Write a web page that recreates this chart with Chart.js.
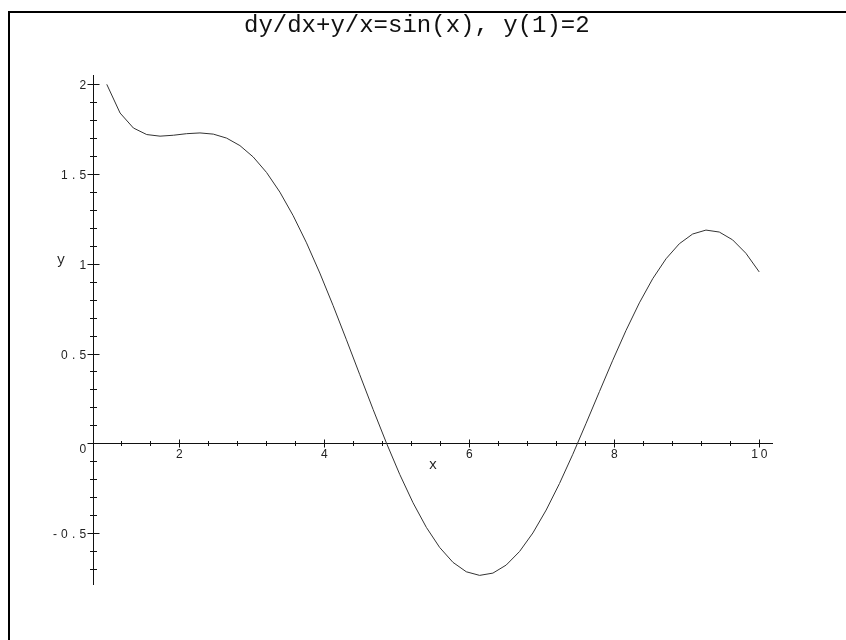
<!DOCTYPE html>
<html>
<head>
<meta charset="utf-8">
<script src="https://cdn.jsdelivr.net/npm/chart.js@4.4.1/dist/chart.umd.min.js"></script>
<style>
  html, body { margin: 0; padding: 0; background: #fff; }
  #wrap { width: 846px; height: 640px; }
</style>
</head>
<body>
<div id="wrap"><canvas id="plot" width="846" height="640"></canvas></div>
<script>
// Solution of dy/dx + y/x = sin(x), y(1) = 2, sampled on [1, 10]
const xValues = [1, 1.1837, 1.3673, 1.5510, 1.7347, 1.9184, 2.1020, 2.2857, 2.4694, 2.6531,
  2.8367, 3.0204, 3.2041, 3.3878, 3.5714, 3.7551, 3.9388, 4.1224, 4.3061, 4.4898,
  4.6735, 4.8571, 5.0408, 5.2245, 5.4082, 5.5918, 5.7755, 5.9592, 6.1429, 6.3265,
  6.5102, 6.6939, 6.8776, 7.0612, 7.2449, 7.4286, 7.6122, 7.7959, 7.9796, 8.1633,
  8.3469, 8.5306, 8.7143, 8.8980, 9.0816, 9.2653, 9.4490, 9.6327, 9.8163, 10];
const yValues = [2.0000, 1.8400, 1.7566, 1.7201, 1.7112, 1.7163, 1.7250, 1.7292, 1.7226, 1.7003,
  1.6586, 1.5951, 1.5088, 1.3994, 1.2680, 1.1167, 0.9484, 0.7668, 0.5764, 0.3819,
  0.1886, 0.0018, -0.1733, -0.3317, -0.4688, -0.5806, -0.6639, -0.7163, -0.7364, -0.7237,
  -0.6788, -0.6034, -0.5001, -0.3723, -0.2244, -0.0614, 0.1113, 0.2879, 0.4625, 0.6292,
  0.7823, 0.9167, 1.0278, 1.1118, 1.1658, 1.1878, 1.1769, 1.1334, 1.0585, 0.9546];

// Labelled axis ticks
const xTickValues = [2, 4, 6, 8, 10];
const xTickLabels = ['2', '4', '6', '8', '10'];
const yTickValues = [2, 1.5, 1, 0.5, 0, -0.5];
const yTickLabels = ['2', '1.5', '1', '0.5', '0', '-0.5'];

const titleText = 'dy/dx+y/x=sin(x), y(1)=2';
const xAxisTitle = 'x';
const yAxisTitle = 'y';

const points = xValues.map((x, i) => ({ x: x, y: yValues[i] }));

// Draws a string one character per fixed-width cell
function spacedText(ctx, text, cx, baseline, cell, align) {
  const n = text.length;
  let left;
  if (align === 'right') left = cx - n * cell;
  else left = cx - n * cell / 2;
  ctx.textAlign = 'center';
  for (let i = 0; i < n; i++) {
    ctx.fillText(text[i], left + cell * (i + 0.5), baseline);
  }
}

const axesPlugin = {
  id: 'mapleAxes',
  beforeDatasetsDraw(chart) {
    const ctx = chart.ctx;
    const xs = chart.scales.x;
    const ys = chart.scales.y;
    const area = chart.chartArea;
    const y0 = Math.round(ys.getPixelForValue(0)) + 0.5;
    const xAxisPos = Math.round(area.left) + 0.5;

    ctx.save();
    // outer frame
    ctx.strokeStyle = '#000';
    ctx.lineWidth = 2;
    ctx.beginPath();
    ctx.moveTo(9, 640);
    ctx.lineTo(9, 12);
    ctx.lineTo(846, 12);
    ctx.stroke();

    // axis lines
    ctx.strokeStyle = '#111';
    ctx.lineWidth = 1;
    ctx.beginPath();
    ctx.moveTo(area.left, y0);
    ctx.lineTo(area.right, y0);
    ctx.moveTo(xAxisPos, area.top);
    ctx.lineTo(xAxisPos, area.bottom);
    ctx.stroke();

    // x ticks: minor every 0.4, major every 2
    ctx.beginPath();
    for (let k = 3; k <= 25; k++) {
      const v = k * 0.4;
      if (v > xs.max) break;
      const px = Math.round(xs.getPixelForValue(v)) + 0.5;
      const major = (k % 5 === 0);
      const h = major ? 4 : 2.5;
      ctx.moveTo(px, y0 - h);
      ctx.lineTo(px, y0 + h);
    }
    // y ticks: minor every 0.1, major every 0.5
    for (let k = -7; k <= 20; k++) {
      const v = k / 10;
      const py = Math.round(ys.getPixelForValue(v)) + 0.5;
      const major = (k % 5 === 0);
      const w = major ? 6 : 3.5;
      ctx.moveTo(xAxisPos - w, py);
      ctx.lineTo(xAxisPos + w, py);
    }
    ctx.stroke();

    // tick labels
    ctx.fillStyle = '#222';
    ctx.font = '12px "Liberation Sans", Arial, sans-serif';
    ctx.textBaseline = 'alphabetic';
    xTickValues.forEach((v, i) => {
      const px = xs.getPixelForValue(v);
      spacedText(ctx, xTickLabels[i], px, y0 + 14, 9.5, 'center');
    });
    yTickValues.forEach((v, i) => {
      const py = ys.getPixelForValue(v);
      const off = (v === 0) ? 10 : 5;
      spacedText(ctx, yTickLabels[i], xAxisPos - 6, py + off, 9.3, 'right');
    });

    // axis titles
    ctx.font = '14px "Liberation Mono", "Courier New", monospace';
    ctx.textAlign = 'center';
    ctx.fillText(xAxisTitle, xs.getPixelForValue(5.5), y0 + 25);
    ctx.fillText(yAxisTitle, 61, ys.getPixelForValue(1) - 0);

    // plot title
    ctx.fillStyle = '#111';
    ctx.font = '24px "Liberation Mono", "Courier New", monospace';
    ctx.textAlign = 'left';
    ctx.fillText(titleText, 244, 32);
    ctx.restore();
  }
};

new Chart(document.getElementById('plot'), {
  type: 'scatter',
  data: {
    datasets: [{
      data: points,
      showLine: true,
      borderColor: '#333',
      borderWidth: 1,
      pointRadius: 0,
      tension: 0,
      fill: false
    }]
  },
  options: {
    responsive: false,
    animation: false,
    devicePixelRatio: 1,
    layout: { padding: { left: 93, right: 73, top: 75, bottom: 55 } },
    plugins: {
      legend: { display: false },
      tooltip: { enabled: false },
      title: { display: false }
    },
    scales: {
      x: { type: 'linear', min: 0.81, max: 10.19, display: false },
      y: { type: 'linear', min: -0.79, max: 2.052, display: false }
    }
  },
  plugins: [axesPlugin]
});
</script>
</body>
</html>
